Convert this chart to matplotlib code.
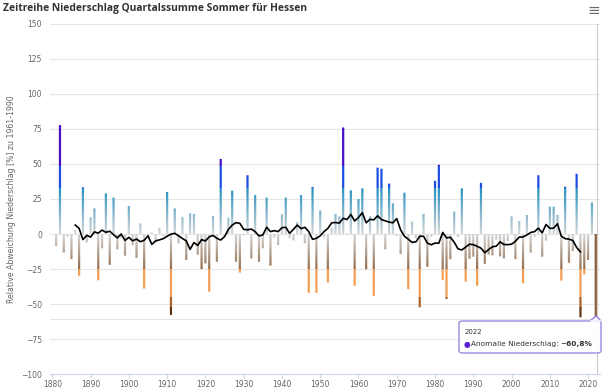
import numpy as np
import matplotlib
matplotlib.use("Agg")
import matplotlib.pyplot as plt
from matplotlib.patches import FancyBboxPatch, Polygon
from matplotlib.text import Annotation
from matplotlib.colors import to_rgb

# summer precipitation anomaly [%] vs 1961-1990, Hessen
years = np.arange(1881, 2023)
anomaly = [
    -8.6, 77.8, -13.3, -2.0, -17.9, 2.9, -29.8, 33.4, -6.0, 11.9,      # 1881-1890
    18.3, -33.1, -10.2, 29.0, -22.0, 26.0, -11.0, -3.0, -15.5, 20.0,   # 1891-1900
    -8.0, -17.0, 7.6, -39.0, -2.0, 1.2, -6.0, 4.5, -1.5, 30.0,         # 1901-1910
    -57.8, 18.3, -6.7, 12.0, -18.6, 14.8, 14.3, -14.8, -25.0, -21.0,   # 1911-1920
    -41.2, 13.0, -19.8, 53.6, -2.0, 11.7, 31.0, -19.8, -27.6, -1.0,    # 1921-1930
    42.0, -17.4, 27.8, -19.8, -10.2, 26.0, -22.6, -2.6, -7.9, 14.0,    # 1931-1940
    26.0, -3.0, -4.6, 8.5, 27.8, -6.7, -42.0, 33.5, -42.0, 16.8,       # 1941-1950
    -2.6, -34.6, 4.5, 14.4, 12.6, 76.1, 0.5, 31.2, -37.0, 25.0,        # 1951-1960
    32.6, -25.2, 12.6, -44.2, 47.4, 46.6, -11.0, 36.0, 21.9, -1.5,     # 1961-1970
    -14.3, 29.5, -39.4, 8.8, -3.0, -52.3, 14.3, -23.3, -2.0, 38.0,     # 1971-1980
    49.4, -32.8, -46.5, -18.0, 16.0, -2.0, 32.6, -34.0, -17.7, -16.2,  # 1981-1990
    -37.0, 36.5, -21.3, -14.7, -15.3, -4.0, -16.0, -17.4, -5.0, 12.6,  # 1991-2000
    -18.0, 9.3, -35.2, 13.6, -13.3, -2.0, 42.0, -16.2, -4.8, 19.5,     # 2001-2010
    19.5, 13.6, -33.3, 33.8, -20.5, -12.2, 43.0, -59.5, -28.8, -18.6,  # 2011-2020
    22.5, -60.8,                                                       # 2021-2022
]

# 11-year running mean as drawn in the chart
ma_years = np.arange(1886, 2019)
moving_avg = [
    6.4, 4.0, -4.0, -1.0, -2.2, 1.5, 0.6, 2.8, 1.2, 2.0,               # 1886-1895
    -0.5, -2.8, 0.0, -4.6, -2.4, -4.9, -3.6, -5.5, -4.5, -1.3,         # 1896-1905
    -7.4, -4.9, -4.2, -3.3, -1.6, -0.1, 0.5, -1.3, -3.2, -4.9,         # 1906-1915
    -11.0, -6.1, -8.2, -4.0, -5.0, -2.0, -1.0, -3.1, -4.3, -1.9,       # 1916-1925
    3.2, 6.4, 8.1, 7.6, 3.3, 3.0, 3.5, 1.7, -1.4, -0.7,                # 1926-1935
    4.8, 1.7, 2.4, 1.7, 4.5, 4.8, 0.5, 3.3, 6.4, 3.8,                  # 1936-1945
    4.8, 1.7, -3.8, -3.1, -1.3, 1.7, 4.0, 8.0, 8.2, 7.8,               # 1946-1955
    11.2, 10.3, 14.0, 9.3, 11.8, 15.2, 8.0, 10.5, 10.1, 13.0,          # 1956-1965
    10.3, 9.4, 8.5, 8.0, 11.0, 3.0, -1.6, -3.7, -6.0, -5.6,            # 1966-1975
    -1.6, -1.6, -6.5, -7.7, -6.5, -6.5, 1.1, -2.8, -2.3, -5.8,         # 1976-1985
    -10.6, -11.4, -9.3, -7.3, -7.6, -8.8, -10.1, -13.4, -11.1, -9.1,   # 1986-1995
    -8.7, -5.6, -7.5, -7.6, -7.3, -5.2, -2.2, -2.1, -0.7, 1.1,         # 1996-2005
    1.7, 4.2, 0.8, 6.8, 4.0, 4.2, 7.3, -1.6, -3.3, -3.7,               # 2006-2015
    -4.6, -9.6, -12.8,                                                 # 2016-2018
]

x_ticks = np.arange(1880, 2021, 10)
y_ticks = np.arange(-100, 151, 25)
hover_year = 2022
hover_value = -60.8


def zone_colors(v):
    """Colour of a bar at height v: grey fading to teal/brown, then hard zones."""
    v = np.asarray(v, dtype=float)
    grey = np.array(to_rgb("#d6d6d6"))
    teal = np.array(to_rgb("#2290c2"))
    brown = np.array(to_rgb("#926c4b"))
    rgb = np.empty((len(v), 3))
    pos = v >= 0
    t = np.clip(v / 33.0, 0, 1)[:, None]
    rgb[pos] = (grey + (teal - grey) * t)[pos]
    t = np.clip(-v / 25.0, 0, 1)[:, None]
    rgb[~pos] = (grey + (brown - grey) * t)[~pos]
    rgb[v > 33] = to_rgb("#1c4de0")
    rgb[v > 48.5] = to_rgb("#4610c4")
    rgb[v < -25] = to_rgb("#f59e55")
    rgb[v < -45] = to_rgb("#ad6329")
    rgb[v < -52] = to_rgb("#673410")
    return rgb


fig = plt.figure(figsize=(6.05, 3.92), dpi=100)
ax = fig.add_axes([0.0833, 0.0459, 0.9084, 0.8929])
ax.set_xlim(1879.5, 2023.1)
ax.set_ylim(-100, 150)

# slice edges on whole device pixel rows, so stacked slices leave no seams
y_lo_px = ax.transData.transform((0, -100))[1]
y_hi_px = ax.transData.transform((0, 150))[1]
rows = np.arange(np.ceil(y_lo_px), np.floor(y_hi_px) + 1)
row_v = ax.transData.inverted().transform(np.column_stack([np.zeros_like(rows), rows]))[:, 1]
edges = np.unique(np.concatenate([row_v, [0.0]]))

seg_x, seg_lo, seg_hi = [], [], []
for yr, v in zip(years, anomaly):
    if yr == hover_year:
        continue
    lo_v, hi_v = min(0.0, v), max(0.0, v)
    inner = edges[(edges > lo_v) & (edges < hi_v)]
    b = np.concatenate([[lo_v], inner, [hi_v]])
    seg_x.extend([yr] * (len(b) - 1))
    seg_lo.extend(b[:-1])
    seg_hi.extend(b[1:])
seg_lo = np.array(seg_lo)
seg_hi = np.array(seg_hi)
bar_w = 0.58
ax.bar(seg_x, seg_hi - seg_lo, bottom=seg_lo, width=bar_w,
       color=zone_colors((seg_lo + seg_hi) / 2), linewidth=0, snap=False, zorder=2)

# hovered bar
ax.bar([hover_year], [hover_value], width=bar_w, color="#8a5b3b", linewidth=0,
       snap=False, zorder=2)

ax.plot(ma_years, moving_avg, color="black", linewidth=1.2, zorder=3)

# crosshairs
ax.axvline(hover_year + 0.3, color="#cccccc", linewidth=0.8, zorder=1)
ax.axhline(hover_value, color="#e6e6e6", linewidth=0.8, zorder=1)

ax.set_yticks(y_ticks)
ax.set_xticks(x_ticks)
ax.grid(axis="y", color="#e6e6e6", linewidth=0.8, zorder=0)
ax.set_axisbelow(True)
for s in ["top", "right", "left"]:
    ax.spines[s].set_visible(False)
ax.spines["bottom"].set_color("#ccd6eb")
ax.spines["bottom"].set_linewidth(0.8)
ax.tick_params(axis="y", length=0, labelsize=5.5, labelcolor="#666666", pad=6)
ax.tick_params(axis="x", length=3, width=0.8, color="#ccd6eb", labelsize=5.5,
               labelcolor="#666666", pad=1.5)
ax.set_ylabel("Relative Abweichung Niederschlag [%] zu 1961-1990",
              fontsize=5.6, color="#666666", labelpad=4)

fig.text(0.005, 0.978, "Zeitreihe Niederschlag Quartalssumme Sommer für Hessen",
         fontsize=7.4, fontweight="bold", color="#333333", family="Open Sans",
         va="center", ha="left")
fig.text(0.982, 0.972, "≡", fontsize=11, color="#666666", ha="center", va="center")

# tooltip
W, H = 605.0, 392.0
box = FancyBboxPatch((459 / W, 1 - 353 / H), 142 / W, 32 / H,
                     boxstyle="round,pad=0,rounding_size=0.006",
                     transform=fig.transFigure, facecolor="white", alpha=0.95,
                     edgecolor="#9a80e0", linewidth=1, zorder=10)
fig.add_artist(box)
tri = Polygon([(590 / W, 1 - 321 / H), (596 / W, 1 - 316 / H), (601 / W, 1 - 321 / H)],
              closed=True, transform=fig.transFigure, facecolor="white",
              edgecolor="#9a80e0", linewidth=1, zorder=10)
fig.add_artist(tri)
fig.add_artist(plt.Line2D([590.6 / W, 600.4 / W], [1 - 321 / H, 1 - 321 / H],
                          transform=fig.transFigure, color="white", linewidth=1.2,
                          zorder=11))
fig.text(465 / W, 1 - 332 / H, str(hover_year), fontsize=5, color="#333333",
         va="center", zorder=12)
fig.text(463.5 / W, 1 - 344 / H, "●", fontsize=5.5, color="#5a1fd2", va="center",
         zorder=12)
t1 = fig.text(470.5 / W, 1 - 344 / H, "Anomalie Niederschlag: ", fontsize=5.3,
              color="#333333", va="center", zorder=12)
val = Annotation(f"{hover_value:.1f}%".replace(".", ",").replace("-", "\u2212"),
                 xy=(1, 0.5), xycoords=t1, va="center", ha="left", fontsize=5.3,
                 fontweight="bold", color="#333333", zorder=12)
fig.add_artist(val)

fig.savefig("out.png", dpi=100)
